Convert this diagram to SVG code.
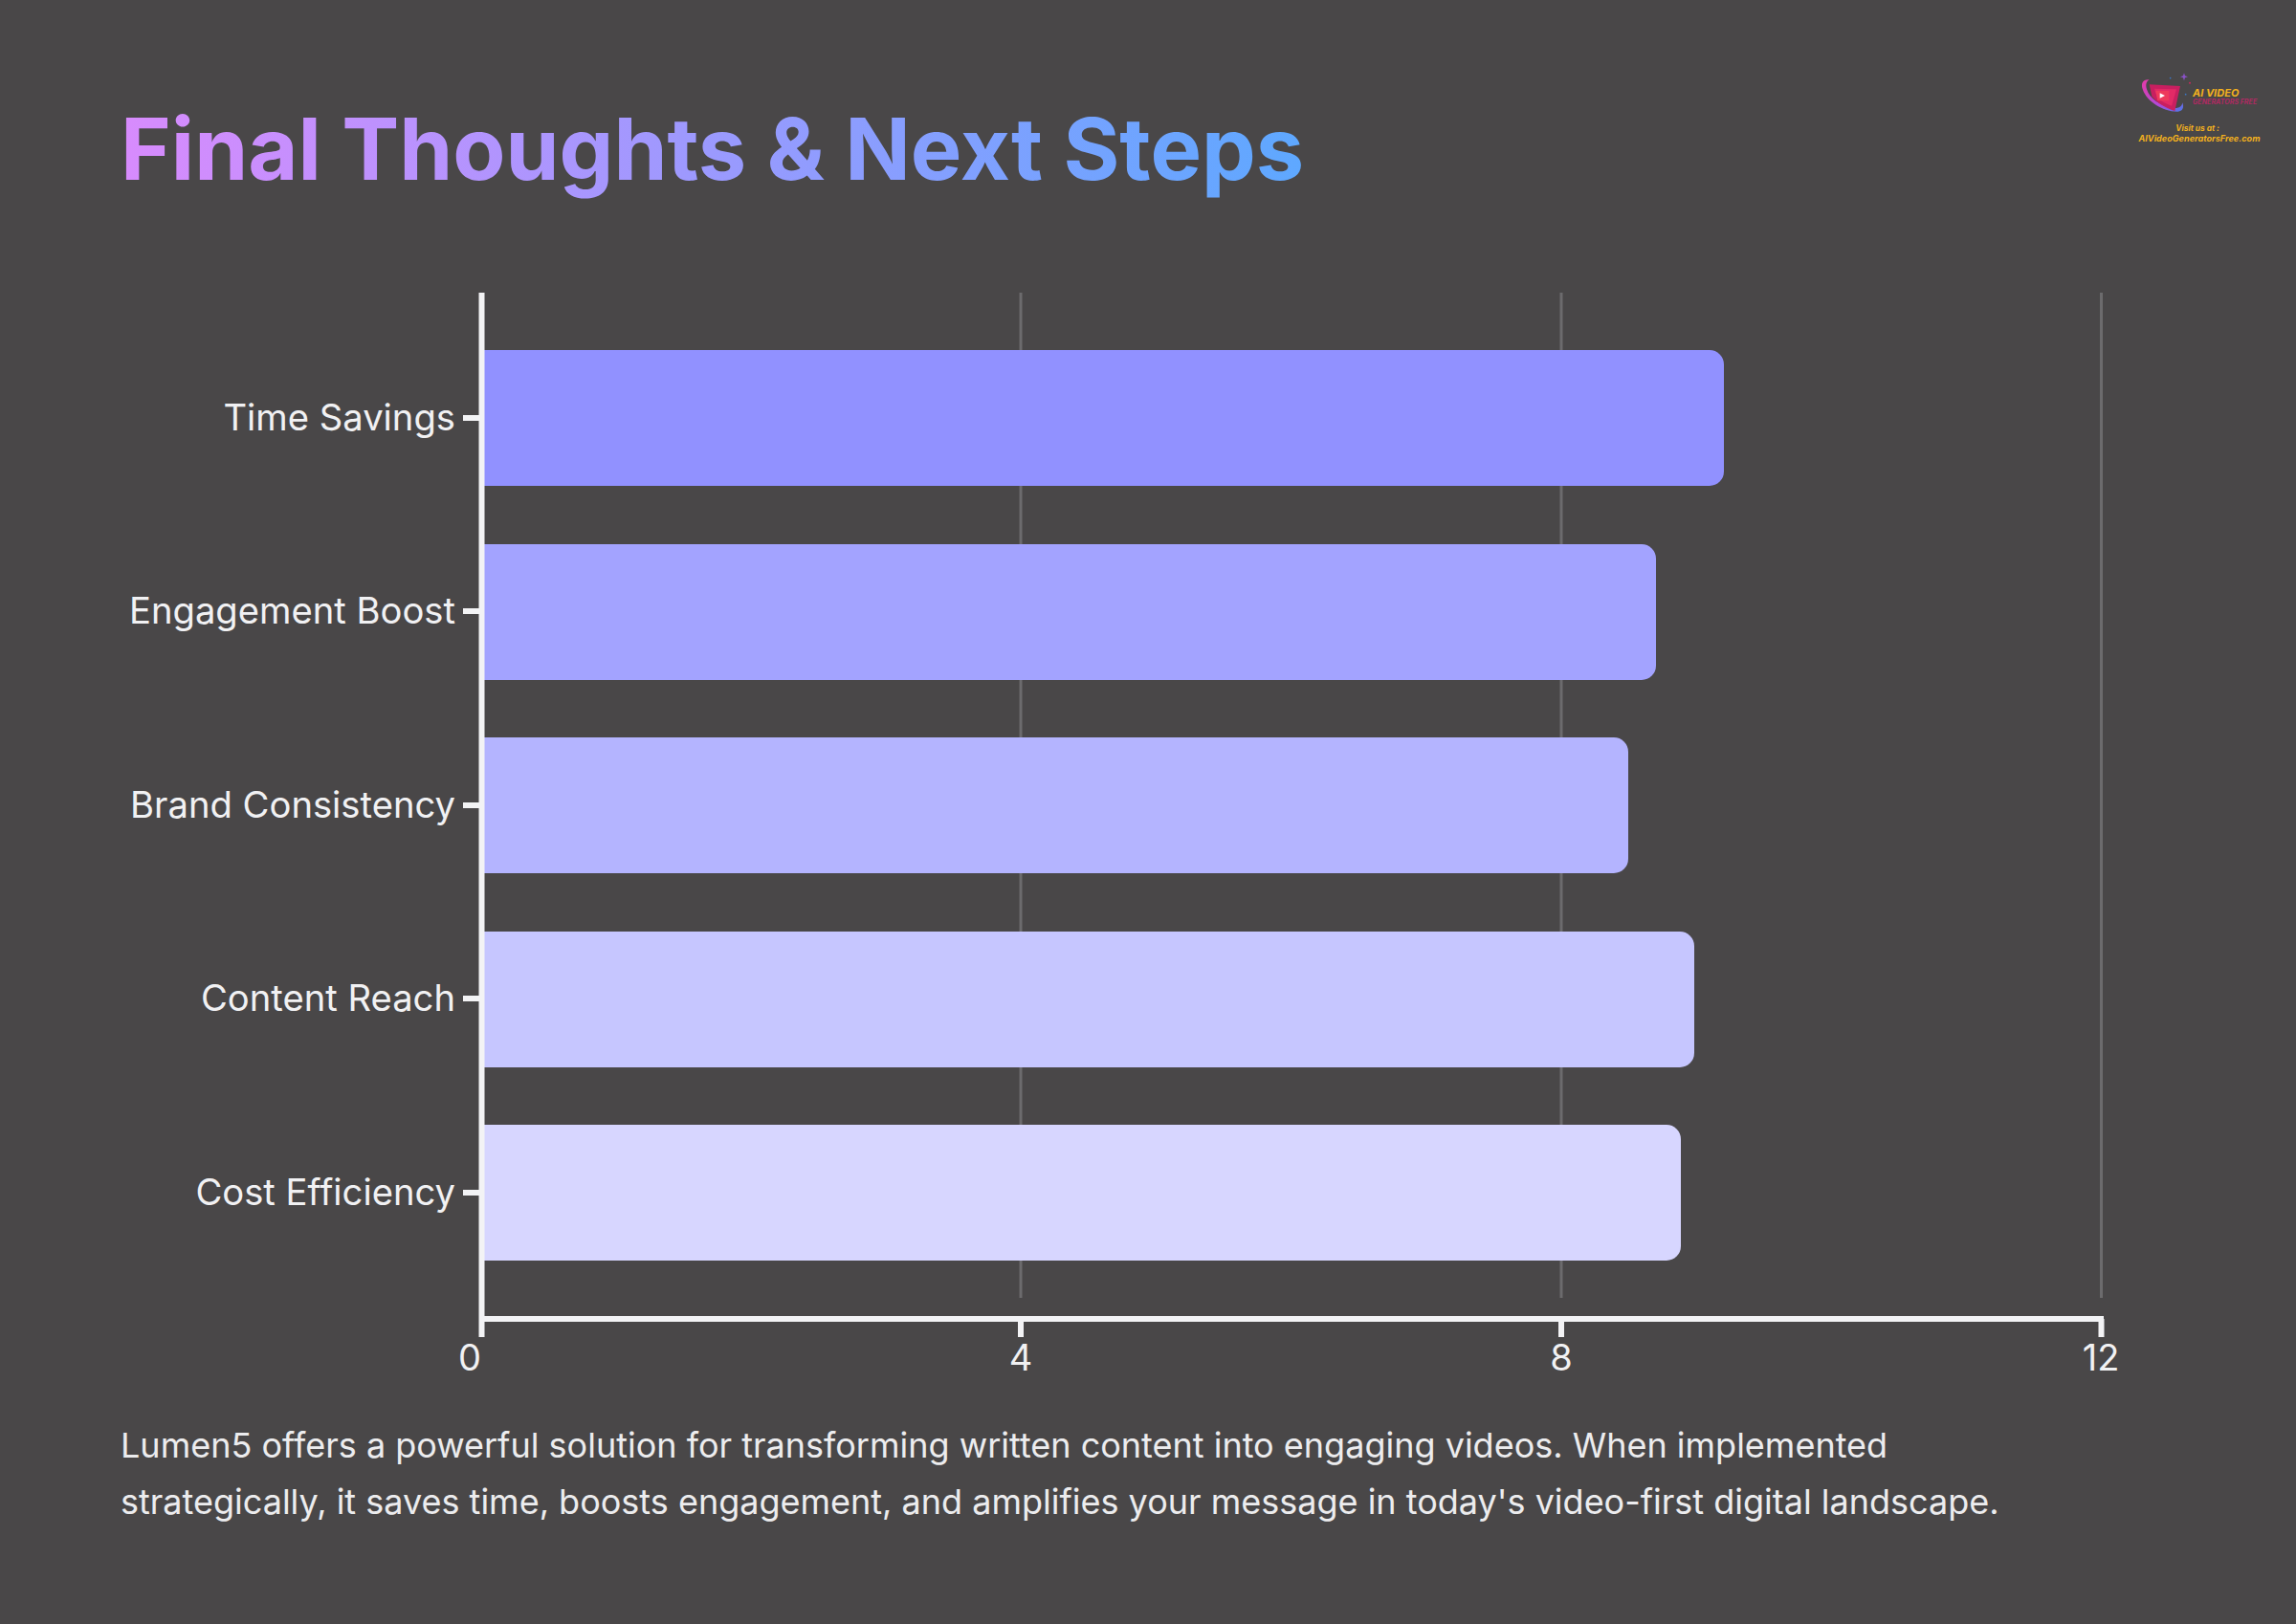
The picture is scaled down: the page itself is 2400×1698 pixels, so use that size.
<svg xmlns="http://www.w3.org/2000/svg" width="2400" height="1698" viewBox="0 0 2400 1698">
<style>
text{font-family:Inter,"Noto Sans","Liberation Sans",sans-serif}
.lab{font-size:38.2px;fill:#f1f1f3;text-anchor:end}
.num{font-size:38px;fill:#f1f1f3;text-anchor:middle}
.grid{stroke:#6c6b6d;stroke-width:3}
.ax{stroke:#f3f3f5;stroke-width:6;fill:none}
.body{font-size:36px;fill:#ececee}
.lg{font-style:italic;font-weight:700;fill:#f2b01e}
</style>
<defs>
<linearGradient id="tg" gradientUnits="userSpaceOnUse" x1="126" y1="0" x2="1362" y2="0"><stop offset="0" stop-color="#d88bfd"/><stop offset="1" stop-color="#5ea8ff"/></linearGradient>
<linearGradient id="lg1" x1="0" y1="0" x2="1" y2="1"><stop offset="0" stop-color="#e63aa8"/><stop offset=".6" stop-color="#b04ad8"/><stop offset="1" stop-color="#4a78e8"/></linearGradient>
</defs>
<rect id="background" width="2400" height="1698" fill="#494748"/>
<text id="title" x="126" y="188" font-size="90" font-weight="700" fill="url(#tg)">Final Thoughts &amp; Next Steps</text>
<g id="logo">
<g transform="translate(2230 70) scale(.3333)">
<path d="M50 40C30 38 22 52 30 72C42 108 95 142 140 140C154 139 160 128 154 112C152 126 140 132 120 128C85 122 50 98 42 70C38 56 40 46 50 40Z" fill="url(#lg1)"/>
<path d="M50 55L147 60L130 138C100 128 74 112 58 92Z" fill="#c81f60"/>
<path d="M66 68L135 70L120 122C100 116 84 106 74 94Z" fill="#e22a66"/>
<path d="M70 75H112V106H76Z" fill="#ee3a5c"/>
<path d="M83 82L99 90L83 98Z" fill="#fff"/>
<path d="M156 28L159 19L162 28L171 31L162 34L159 43L156 34L147 31Z" fill="#8a52c8"/>
<circle cx="116" cy="35" r="2.500" fill="#3a78c8"/>
<circle cx="177" cy="50" r="3" fill="#c8285e"/>
<circle cx="164" cy="86" r="2.500" fill="#3a78c8"/>
</g>
<text class="lg" x="2292" y="101" font-size="11">AI VIDEO</text>
<text class="lg" x="2292" y="109" font-size="7.1" style="fill:#b02a62">GENERATORS FREE</text>
<text class="lg" x="2297" y="137" font-size="8.400" text-anchor="middle">Visit us at :</text>
<text class="lg" x="2299" y="148" font-size="9.100" text-anchor="middle">AIVideoGeneratorsFree.com</text>
</g>
<g id="gridlines">
<line class="grid" x1="1067" y1="306" x2="1067" y2="1357"/>
<line class="grid" x1="1632" y1="306" x2="1632" y2="1357"/>
<line class="grid" x1="2196.500" y1="306" x2="2196.500" y2="1357"/>
</g>
<g id="bars">
<g id="bar-time-savings"><path d="M506 366H1787a15 15 0 0 1 15 15V493a15 15 0 0 1-15 15H506Z" fill="#9191ff"/></g>
<g id="bar-engagement-boost"><path d="M506 569H1716a15 15 0 0 1 15 15V696a15 15 0 0 1-15 15H506Z" fill="#a3a3ff"/></g>
<g id="bar-brand-consistency"><path d="M506 771H1687a15 15 0 0 1 15 15V898a15 15 0 0 1-15 15H506Z" fill="#b4b4ff"/></g>
<g id="bar-content-reach"><path d="M506 974H1756a15 15 0 0 1 15 15V1101a15 15 0 0 1-15 15H506Z" fill="#c6c6ff"/></g>
<g id="bar-cost-efficiency"><path d="M506 1176H1742a15 15 0 0 1 15 15V1303a15 15 0 0 1-15 15H506Z" fill="#d7d6ff"/></g>
</g>
<g id="axes">
<path class="ax" d="M503.500 306V1398"/>
<path class="ax" d="M501 1379H2199"/>
<path class="ax" d="M1067 1379V1398M1632 1379V1398M2196.500 1379V1398"/>
<path class="ax" d="M484 437H501M484 639H501M484 842H501M484 1044H501M484 1247H501"/>
</g>
<g id="labels">
<text class="lab" x="476" y="450">Time Savings</text>
<text class="lab" x="476" y="652">Engagement Boost</text>
<text class="lab" x="476" y="855">Brand Consistency</text>
<text class="lab" x="476" y="1057">Content Reach</text>
<text class="lab" x="476" y="1260">Cost Efficiency</text>
<text class="num" x="491" y="1433">0</text>
<text class="num" x="1067" y="1433">4</text>
<text class="num" x="1632" y="1433">8</text>
<text class="num" x="2196" y="1433">12</text>
</g>
<g id="caption">
<text class="body" x="126" y="1524">Lumen5 offers a powerful solution for transforming written content into engaging videos. When implemented</text>
<text class="body" x="126" y="1583">strategically, it saves time, boosts engagement, and amplifies your message in today's video-first digital landscape.</text>
</g>
</svg>
